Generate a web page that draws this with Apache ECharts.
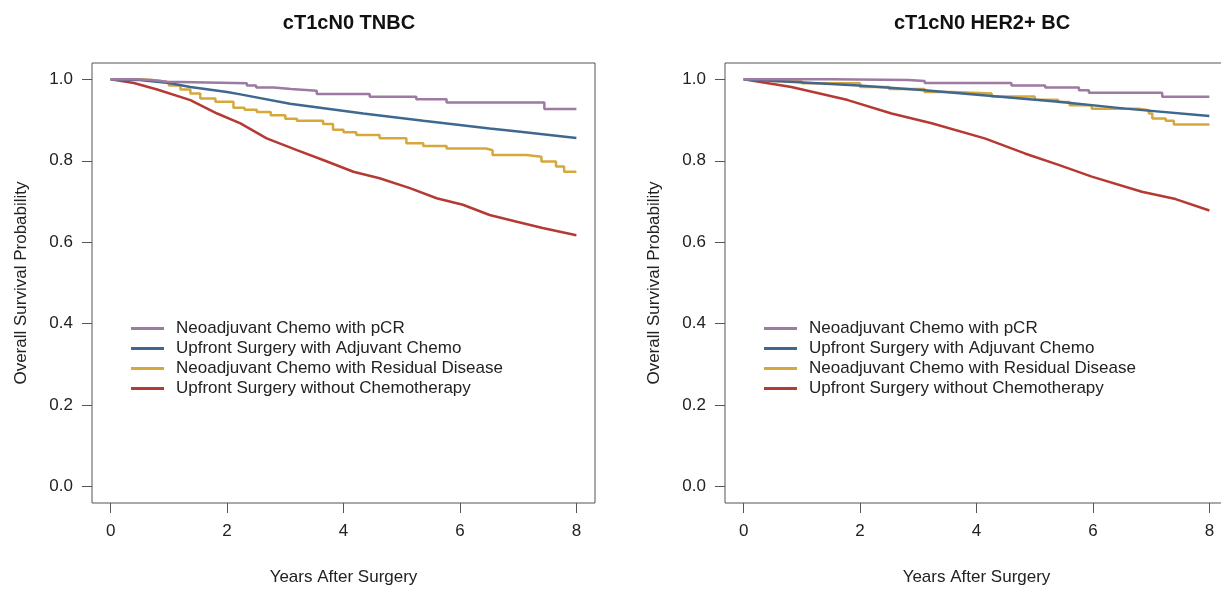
<!DOCTYPE html>
<html>
<head>
<meta charset="utf-8">
<script src="https://cdn.jsdelivr.net/npm/echarts@6/dist/echarts.min.js"></script>
<style>
  html, body { margin: 0; padding: 0; background: #fff; }
  #chart { width: 1221px; height: 589px; }
</style>
</head>
<body>
<div id="chart"></div>
<script>
// series names, in legend order
const groupNames = [
  'Neoadjuvant Chemo with pCR',
  'Upfront Surgery with Adjuvant Chemo',
  'Neoadjuvant Chemo with Residual Disease',
  'Upfront Surgery without Chemotherapy'
]
const panelTitles = ['cT1cN0 TNBC', 'cT1cN0 HER2+ BC']
const xTicks = [0, 2, 4, 6, 8]
const yTicks = [0, 0.2, 0.4, 0.6, 0.8, 1.0]

// [years, survival] (TNBC)
const tnbcPcr = [[0, 1], [0.4, 0.998], [0.7, 0.994], [0.97, 0.99], [2.34, 0.985], [2.5, 0.98], [2.8, 0.976], [3.1, 0.972], [3.54, 0.964], [4.45, 0.957], [5.25, 0.951], [5.77, 0.943], [7.45, 0.927], [8, 0.927]]
const tnbcAdjuvant = [[0, 1], [0.5, 0.998], [1, 0.991], [1.37, 0.981], [2, 0.969], [2.23, 0.963], [3.08, 0.94], [4.34, 0.916], [5.37, 0.898], [6.51, 0.879], [7, 0.872], [8, 0.856]]
const tnbcResidual = [[0, 1], [0.5, 0.997], [0.8, 0.993], [1.0, 0.985], [1.2, 0.975], [1.37, 0.965], [1.54, 0.953], [1.8, 0.945], [2.11, 0.93], [2.3, 0.925], [2.51, 0.92], [2.75, 0.912], [3.0, 0.903], [3.2, 0.898], [3.65, 0.89], [3.82, 0.876], [4.0, 0.87], [4.22, 0.863], [4.62, 0.855], [5.08, 0.843], [5.37, 0.836], [5.77, 0.83], [6.45, 0.826], [6.56, 0.814], [7.14, 0.81], [7.4, 0.798], [7.65, 0.786], [7.79, 0.773], [8, 0.773]]
const tnbcNoChemo = [[0, 1], [0.4, 0.991], [0.8, 0.975], [1.37, 0.949], [1.83, 0.916], [2.23, 0.892], [2.68, 0.855], [3.2, 0.826], [3.65, 0.802], [4.17, 0.773], [4.62, 0.757], [5.14, 0.733], [5.6, 0.708], [6.05, 0.692], [6.51, 0.667], [6.96, 0.651], [7.42, 0.635], [8, 0.617]]

// [years, survival] (HER2+)
const her2Pcr = [[0, 1], [1.5, 0.998], [2.83, 0.996], [3.11, 0.991], [4.6, 0.985], [5.18, 0.98], [5.76, 0.973], [5.93, 0.967], [7.19, 0.957], [8, 0.957]]
const her2Adjuvant = [[0, 1], [1.97, 0.985], [3.11, 0.973], [4.26, 0.959], [5.41, 0.945], [6.56, 0.928], [8, 0.91]]
const her2Residual = [[0, 1], [0.5, 0.995], [1, 0.99], [2, 0.981], [2.5, 0.976], [3.11, 0.969], [3.6, 0.965], [4.26, 0.958], [5, 0.95], [5.4, 0.944], [5.6, 0.936], [5.98, 0.928], [6.78, 0.924], [6.96, 0.916], [7.02, 0.904], [7.25, 0.898], [7.39, 0.889], [8, 0.889]]
const her2NoChemo = [[0, 1], [0.82, 0.981], [1.79, 0.949], [2.54, 0.916], [3.23, 0.892], [4.14, 0.855], [4.83, 0.818], [5.41, 0.79], [5.98, 0.761], [6.84, 0.724], [7.42, 0.706], [8, 0.678]]

const colors = ['#9d7aa1', '#3f6890', '#d6a83c', '#b53a34']
const font = 'Liberation Sans, Arial, sans-serif'
const ink = '#222'

const panels = [
  { left: 92, title: 344, legendLeft: 126, data: [tnbcPcr, tnbcAdjuvant, tnbcResidual, tnbcNoChemo] },
  { left: 725, title: 977, legendLeft: 759, data: [her2Pcr, her2Adjuvant, her2Residual, her2NoChemo] }
]

const chart = echarts.init(document.getElementById('chart'))

// the KM curves with few events are drawn as visible steps
const stepped = [true, false, true, false]

chart.setOption({
  animation: false,
  textStyle: { fontFamily: font },
  title: panels.map((p, i) => ({
    text: panelTitles[i],
    left: p.title,
    top: 8,
    textAlign: 'center',
    textStyle: { fontSize: 20, fontWeight: 'bold', color: '#111', fontFamily: font }
  })),
  legend: panels.map(p => ({
    data: groupNames,
    orient: 'vertical',
    left: p.legendLeft,
    top: 315,
    icon: 'rect',
    itemWidth: 33,
    itemHeight: 3,
    itemGap: 3,
    selectedMode: false,
    textStyle: { fontSize: 17, color: ink, fontFamily: font, padding: [0, 0, 0, 7] }
  })),
  grid: panels.map(p => ({
    left: p.left,
    top: 63,
    width: 503,
    height: 440,
    outerBoundsMode: 'none',
    show: true,
    borderColor: '#555',
    borderWidth: 1
  })),
  xAxis: panels.map((p, i) => ({
    type: 'value',
    gridIndex: i,
    min: -0.32,
    max: 8.32,
    name: 'Years After Surgery',
    nameLocation: 'middle',
    nameGap: 66,
    nameTextStyle: { fontSize: 17, color: ink, fontFamily: font },
    axisLine: { show: false, onZero: false },
    splitLine: { show: false },
    axisTick: { show: true, length: 10, customValues: xTicks, lineStyle: { color: '#555' } },
    axisLabel: { customValues: xTicks, fontSize: 17, color: ink, margin: 20 }
  })),
  yAxis: panels.map((p, i) => ({
    type: 'value',
    gridIndex: i,
    min: -0.04,
    max: 1.04,
    name: 'Overall Survival Probability',
    nameLocation: 'middle',
    nameGap: 62,
    nameTextStyle: { fontSize: 17, color: ink, fontFamily: font },
    axisLine: { show: false, onZero: false },
    splitLine: { show: false },
    axisTick: { show: true, length: 10, customValues: yTicks, lineStyle: { color: '#555' } },
    axisLabel: { customValues: yTicks, fontSize: 17, color: ink, margin: 19, formatter: v => v.toFixed(1) }
  })),
  series: panels.flatMap((p, i) => p.data.map((d, k) => ({
    name: groupNames[k],
    type: 'line',
    xAxisIndex: i,
    yAxisIndex: i,
    data: d,
    step: stepped[k] ? 'end' : false,
    showSymbol: false,
    symbol: 'none',
    color: colors[k],
    lineStyle: { width: 2.5, color: colors[k] },
    z: 10 - k
  })))
})
</script>
</body>
</html>
